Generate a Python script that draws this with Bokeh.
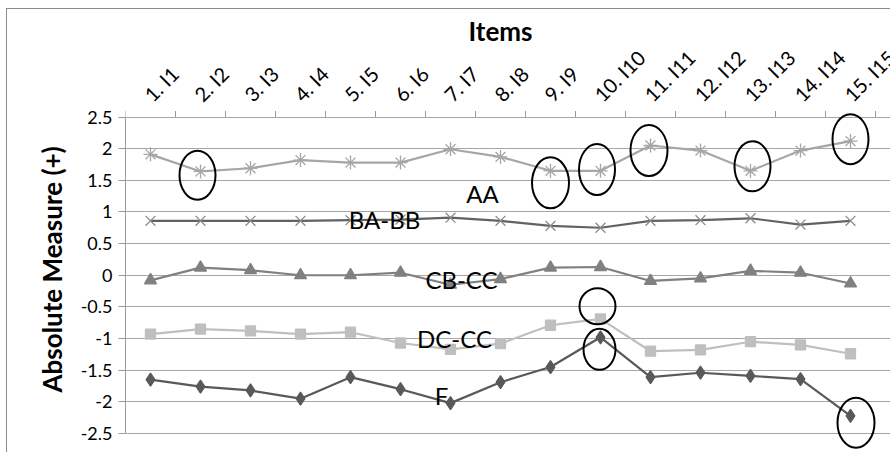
import math
from bokeh.plotting import figure
from bokeh.models import FixedTicker, Range1d, NumeralTickFormatter, Title
from bokeh.embed import file_html
from bokeh.resources import INLINE
from bokeh.core.properties import value

# ---- data ----
items = ["1. I1", "2. I2", "3. I3", "4. I4", "5. I5", "6. I6", "7. I7", "8. I8",
         "9. I9", "10. I10", "11. I11", "12. I12", "13. I13", "14. I14", "15. I15"]
xs = list(range(1, 16))

aa    = [1.91, 1.64, 1.69, 1.82, 1.78, 1.78, 1.99, 1.87, 1.65, 1.65, 2.05, 1.97, 1.65, 1.97, 2.12]
ba_bb = [0.86, 0.86, 0.86, 0.86, 0.87, 0.88, 0.91, 0.86, 0.78, 0.75, 0.86, 0.87, 0.90, 0.80, 0.86]
cb_cc = [-0.08, 0.12, 0.08, 0.00, 0.00, 0.04, -0.15, -0.06, 0.12, 0.13, -0.09, -0.05, 0.07, 0.04, -0.13]
dc_cc = [-0.93, -0.85, -0.88, -0.93, -0.90, -1.07, -1.17, -1.08, -0.79, -0.69, -1.20, -1.18, -1.05, -1.10, -1.24]
f_ser = [-1.65, -1.76, -1.82, -1.95, -1.61, -1.80, -2.02, -1.69, -1.45, -0.98, -1.61, -1.54, -1.59, -1.64, -2.22]

y_ticks = [-2.5, -2.0, -1.5, -1.0, -0.5, 0.0, 0.5, 1.0, 1.5, 2.0, 2.5]

# series name labels placed in the plot
label_text = ["AA", "BA-BB", "CB-CC", "DC-CC", "F"]
label_x = [7.64, 5.68, 7.22, 7.08, 6.82]
label_y = [1.29, 0.88, -0.06, -1.00, -1.90]

# highlighted points (ellipses)
hl_x = [1.94, 9.0, 9.93, 10.97, 13.04, 15.0, 9.94, 9.98, 15.11]
hl_y = [1.58, 1.46, 1.67, 1.97, 1.72, 2.15, -0.49, -1.17, -2.33]
hl_w = [36, 37, 36, 37, 36, 36, 36, 32, 37]
hl_h = [49, 51, 51, 51, 50, 50, 36, 41, 50]

FONT = "Lato"
GREY = "#9a9a9a"

# layout: the frame extends above the data area (2.5) to hold the category axis
X_MIN, X_MAX = 0.5, 15.5
X_END = X_MAX + 16 / 50.0                 # frame runs to the window edge (labels cut there)
Y_MIN, Y_TOP = -2.5, 2.5
PX_PER_UNIT = 63.3
Y_END = Y_TOP + 105.5 / PX_PER_UNIT       # room above the data area
Y_START = Y_MIN - 17 / PX_PER_UNIT        # a little room below -2.5
TICK_LEN = 6 / PX_PER_UNIT
LABEL_Y = Y_TOP + 19.5 / PX_PER_UNIT
TITLE_Y = Y_TOP + 86.5 / PX_PER_UNIT

p = figure(width=884, height=444, x_range=Range1d(X_MIN, X_END), y_range=Range1d(Y_START, Y_END),
           output_backend="svg", toolbar_location=None, x_axis_location=None,
           min_border_left=118, min_border_top=2, min_border_right=0, min_border_bottom=3)
p.styles = {"margin-left": "6px", "margin-top": "8px",
            "border-left": "1px solid #8c8c8c", "border-top": "1px solid #8c8c8c"}
p.outline_line_color = None
p.background_fill_color = "white"
p.border_fill_color = "white"

# y axis
ya = p.yaxis[0]
ya.ticker = FixedTicker(ticks=y_ticks)
ya.bounds = (Y_MIN, Y_TOP)
ya.formatter = NumeralTickFormatter(format="0.[0]")
ya.major_tick_out = 7
ya.major_tick_in = 0
ya.minor_tick_line_color = None
ya.axis_line_color = GREY
ya.major_tick_line_color = GREY
ya.major_label_text_font = FONT
ya.major_label_text_font_size = "18px"
ya.major_label_text_color = "black"
ya.major_label_standoff = 6

p.add_layout(Title(text="Absolute Measure (+)", align="left", offset=58, standoff=20,
                   text_font=FONT, text_font_style="bold", text_font_size="26px",
                   text_color="black"), "left")

p.xgrid.grid_line_color = None
p.ygrid.ticker = FixedTicker(ticks=y_ticks)
p.ygrid.bounds = (X_MIN, X_MAX)
p.ygrid.grid_line_color = "#a6a6a6"
p.ygrid.grid_line_width = 1

# category axis at the top of the data area: tick marks between categories + rotated labels
bounds_x = [i + 0.5 for i in range(0, 16)]
p.segment(x0=bounds_x, y0=[Y_TOP] * 16, x1=bounds_x, y1=[Y_TOP + TICK_LEN] * 16,
          line_color=GREY, line_width=1)
p.text(x=[x - 0.06 for x in xs], y=[LABEL_Y] * 15, text=items, angle=math.pi / 4,
       text_font=value(FONT), text_font_size="20px", text_color="black",
       text_align="left", text_baseline="alphabetic")
p.text(x=[8.0], y=[TITLE_Y], text=["Items"], text_font=value(FONT), text_font_size="26px",
       text_font_style="bold", text_color="black", text_align="center", text_baseline="middle")

# series
series = [
    (aa, "#a6a6a6", "#a6a6a6", "asterisk", 14, None),
    (ba_bb, "#626262", "#8c8c8c", "x", 14, None),
    (cb_cc, "#808080", "#808080", "triangle", 12, "#808080"),
    (dc_cc, "#bfbfbf", "#bfbfbf", "square", 10, "#bfbfbf"),
    (f_ser, "#595959", "#595959", "diamond", 13, "#595959"),
]
for ys, lc, mc, mk, sz, fc in series:
    p.line(xs, ys, line_color=lc, line_width=2.2)
    p.scatter(xs, ys, marker=mk, size=sz, line_color=mc, fill_color=fc, line_width=1.3)

p.text(x=label_x, y=label_y, text=label_text, text_font=value(FONT), text_font_size="24px",
       text_color="black", text_align="center", text_baseline="middle")

p.ellipse(x=hl_x, y=hl_y, width=hl_w, height=hl_h, width_units="screen", height_units="screen",
          fill_color=None, line_color="black", line_width=2)

open("out.html", "w").write(file_html(p, INLINE))
